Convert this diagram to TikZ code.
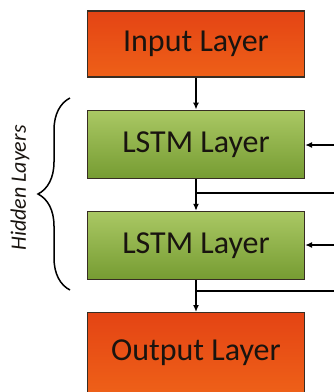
\documentclass[tikz,border=0pt]{standalone}
\usepackage{fontspec}
\setmainfont{Carlito}
\usepackage{xcolor}
\usepackage{tikz}
\usetikzlibrary{positioning,decorations.pathreplacing,arrows.meta}
\definecolor{ioorangetop}{RGB}{228,68,20}
\definecolor{ioorangebot}{RGB}{238,96,24}
\definecolor{lstmgreentop}{RGB}{170,200,100}
\definecolor{lstmgreenbot}{RGB}{118,156,50}
\definecolor{edgegrey}{RGB}{55,45,35}
\definecolor{textdark}{RGB}{25,20,15}

\begin{document}
\begin{tikzpicture}[x=1pt, y=1pt,
    layerbox/.style={draw=edgegrey, line width=1.2pt, minimum width=217pt, text=textdark,
        font=\fontsize{32}{36}\selectfont},
    iolayer/.style={layerbox, top color=ioorangetop, bottom color=ioorangebot},
    lstmlayer/.style={layerbox, top color=lstmgreentop, bottom color=lstmgreenbot, minimum height=68pt},
    link/.style={line width=1.8pt, draw=black},
    flow/.style={link, -{Latex[length=7pt,width=6pt]}}]
\useasboundingbox (0,0) rectangle (334,-392);

\node[iolayer, minimum height=66pt] (input) at (196,-44) {Input Layer};
\node[lstmlayer, below=32pt of input] (lstm1) {LSTM Layer};
\node[lstmlayer, below=32pt of lstm1] (lstm2) {LSTM Layer};
\node[iolayer, minimum height=80pt, below=32pt of lstm2] (output) {Output Layer};

\draw[flow] (input) -- (lstm1);
\draw[flow] (lstm1) -- (lstm2);
\draw[flow] (lstm2) -- (output);

% recurrent lines leaving the picture on the right
\coordinate (split1) at ([yshift=-14pt]lstm1.south);
\coordinate (split2) at ([yshift=-11pt]lstm2.south);
\coordinate (out1) at (336,-191);
\coordinate (out2) at (336,-289);
\coordinate (back1) at (336,-145);
\coordinate (back2) at (336,-245);
\draw[link] (split1) -- (split1 -| out1);
\draw[link] (split2) -- (split2 -| out2);
\draw[flow] (back1) -- (back1 -| lstm1.east);
\draw[flow] (back2) -- (back2 -| lstm2.east);

% brace for the hidden part
\coordinate (bracetop) at (70,-98);
\coordinate (bracebot) at (70,-290);
\draw[line width=1.5pt, decoration={brace, amplitude=32pt}, decorate] (bracebot) -- (bracetop);
\node[rotate=90, font=\fontsize{22}{26}\itshape\selectfont, text=textdark] (hidden) at (20,-188) {Hidden Layers};
\end{tikzpicture}
\end{document}
